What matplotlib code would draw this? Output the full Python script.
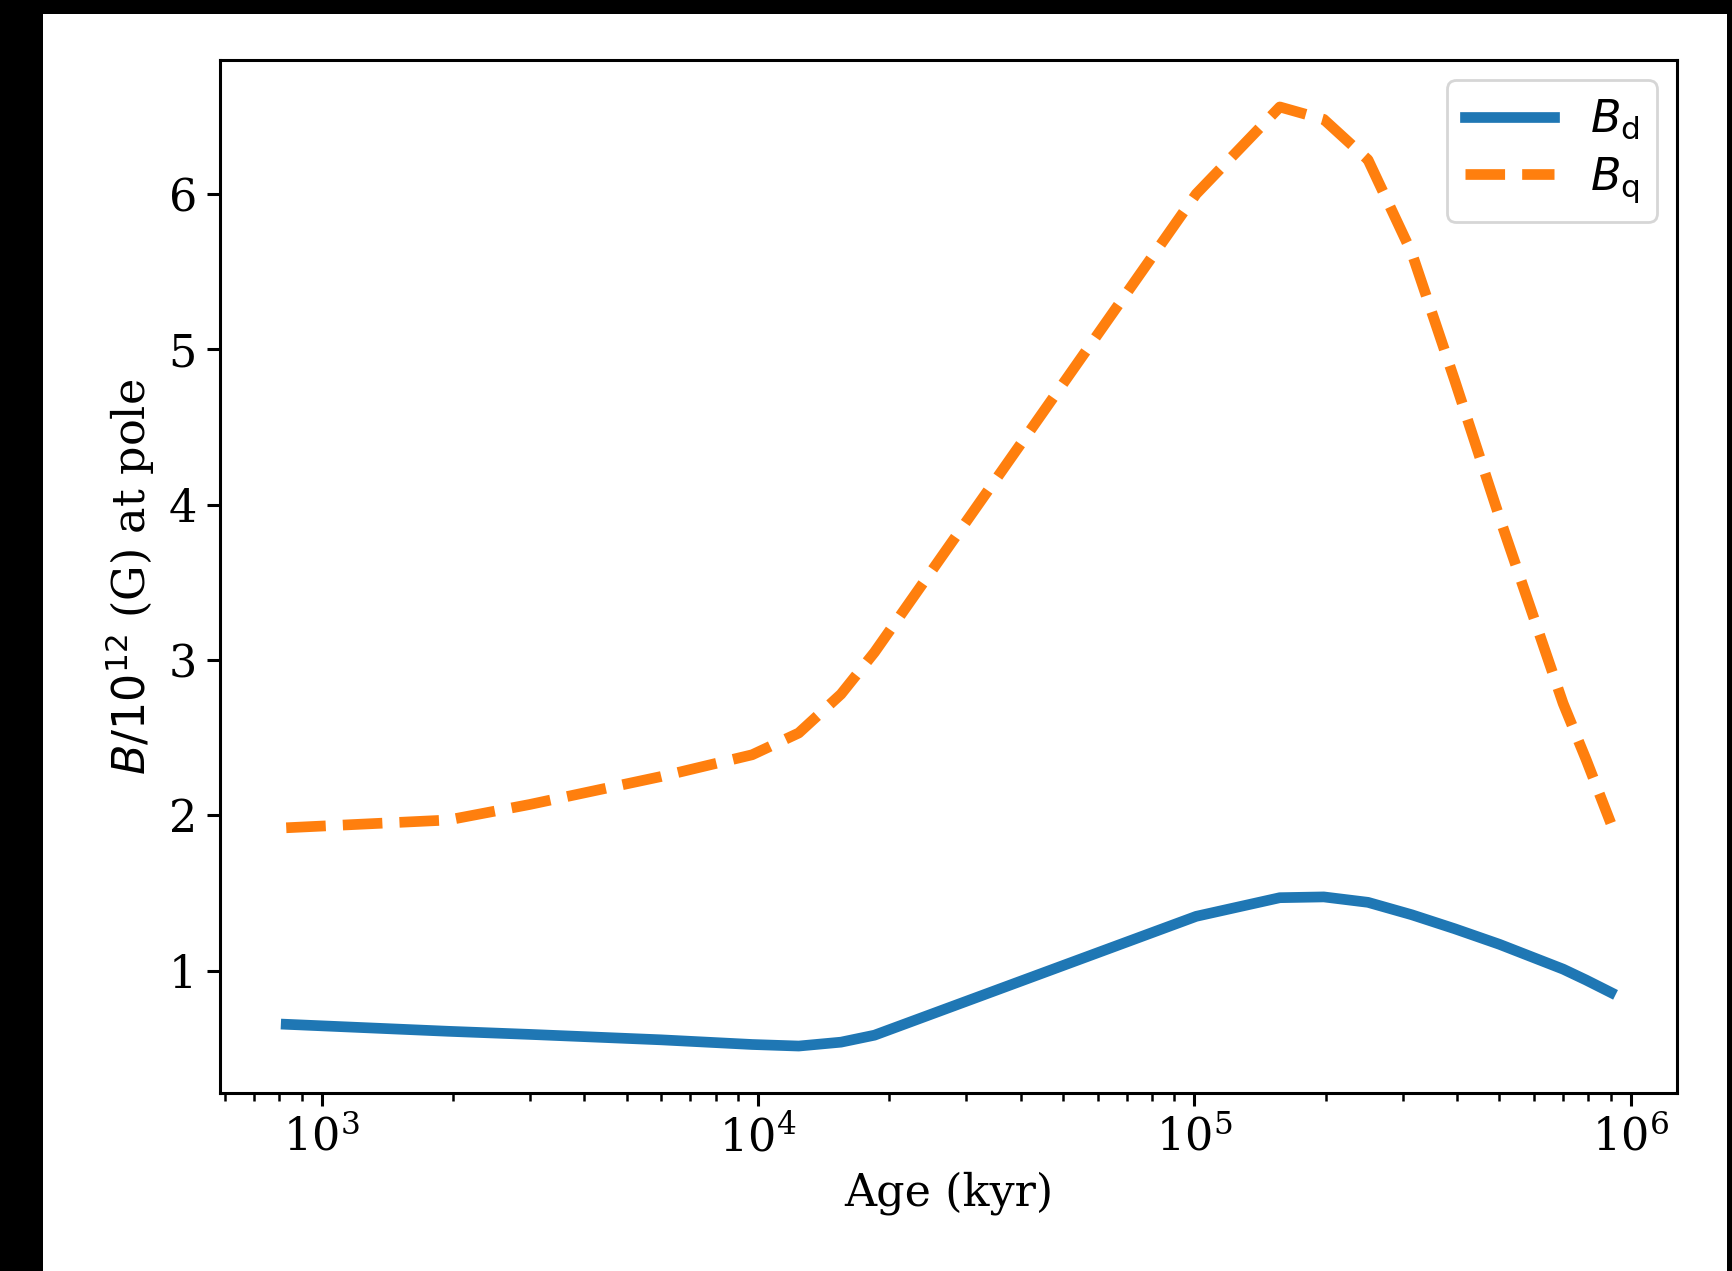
import numpy as np
import matplotlib
matplotlib.use("Agg")
import matplotlib.pyplot as plt
from matplotlib.patches import Rectangle

plt.rcParams['font.family'] = 'serif'
plt.rcParams['font.serif'] = ['DejaVu Serif']
plt.rcParams['mathtext.fontset'] = 'dejavusans'
plt.rcParams['font.size'] = 16
plt.rcParams['axes.linewidth'] = 1.1
plt.rcParams['xtick.major.size'] = 4.8
plt.rcParams['xtick.major.width'] = 1.1
plt.rcParams['xtick.minor.size'] = 2.8
plt.rcParams['xtick.minor.width'] = 0.9
plt.rcParams['ytick.major.size'] = 4.8
plt.rcParams['ytick.major.width'] = 1.1

# age grid (kyr) and polar field strengths in units of 1e12 G
age = [830, 1950, 3000, 6000, 9700, 12400, 15500, 18500, 101000,
       157000, 198000, 250000, 315000, 395000, 500000, 700000, 790000, 900000]
B_d = [0.655, 0.61, 0.59, 0.555, 0.525, 0.515, 0.54, 0.585, 1.35,
       1.47, 1.475, 1.44, 1.36, 1.27, 1.17, 1.01, 0.94, 0.86]
B_q = [1.92, 1.97, 2.07, 2.25, 2.39, 2.53, 2.78, 3.05, 6.0,
       6.56, 6.48, 6.22, 5.62, 4.8, 3.92, 2.72, 2.36, 1.95]

W, H, DPI = 1732, 1271, 200
fig = plt.figure(figsize=(W / DPI, H / DPI), dpi=DPI, facecolor='black')
fig.patches.append(Rectangle((43 / W, 0), 1684 / W, 1257 / H,
                             transform=fig.transFigure, facecolor='white',
                             edgecolor='none', zorder=-5))

ax = fig.add_axes([220 / W, 1 - 1093 / H, (1677 - 220) / W, (1093 - 60) / H])
ax.plot(age, B_d, lw=3.85, color='#1f77b4', label=r'$B_\mathrm{d}$')
ax.plot(age, B_q, lw=3.85, ls='--', color='#ff7f0e', label=r'$B_\mathrm{q}$')
ax.set_xscale('log')
ax.set_xlabel('Age (kyr)')
ax.set_ylabel(r'$B/10^{12}$ (G) at pole')
ax.set_yticks([1, 2, 3, 4, 5, 6])
ax.legend(loc='upper right', borderaxespad=0.45, labelspacing=0.3)

fig.savefig('out.png', dpi=DPI, facecolor=fig.get_facecolor())
